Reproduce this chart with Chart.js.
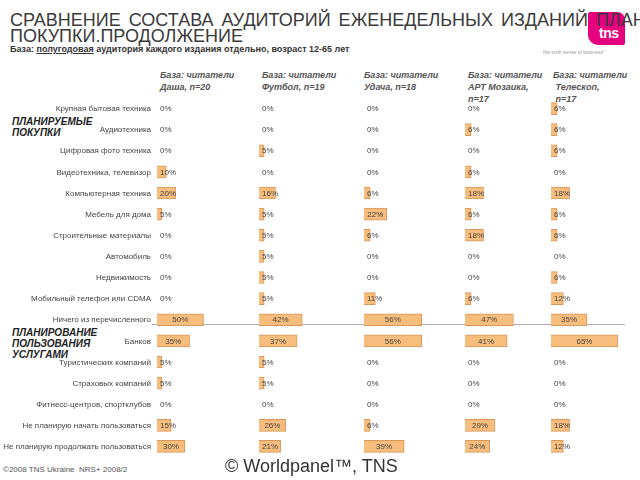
<!DOCTYPE html>
<html>
<head>
<meta charset="utf-8">
<script src="https://cdn.jsdelivr.net/npm/chart.js@4.4.1/dist/chart.umd.min.js"></script>
<style>
  body { margin: 0; background: #fff; }
  #slide { position: relative; width: 640px; height: 480px; overflow: hidden; font-family: "Liberation Sans", Arial, sans-serif; }
  .abs { position: absolute; white-space: nowrap; }
  .title { left: 10px; top: 12px; font-size: 18px; line-height: 16px; color: #3a3a3a; word-spacing: 3px; z-index: 2; }
  .sub { left: 10px; top: 44px; font-size: 9px; font-weight: bold; color: #333; }
  .colhead { top: 69px; font-size: 9px; line-height: 12px; font-weight: bold; font-style: italic; color: #555; }
  .section { left: 12px; font-size: 10px; line-height: 11px; font-weight: bold; font-style: italic; color: #222; }
  canvas { position: absolute; }
</style>
</head>
<body>
<div id="slide">
  <!-- логотип -->
  <div class="abs" style="left:588px;top:12px;width:37px;height:33px;background:#e5007e;border-radius:2px 8px 2px 10px;"></div>
  <div class="abs" style="left:599px;top:25px;font-size:14px;font-weight:bold;color:#fff;letter-spacing:-0.5px;">tns</div>
  <div class="abs" style="left:543px;top:49px;font-size:5px;color:#999;">the sixth sense of business"</div>

  <div class="abs title">СРАВНЕНИЕ СОСТАВА АУДИТОРИЙ ЕЖЕНЕДЕЛЬНЫХ ИЗДАНИЙ ПЛАНЫ<br>ПОКУПКИ.ПРОДОЛЖЕНИЕ</div>
  <div class="abs sub">База: <u>полугодовая</u> аудитория каждого издания отдельно, возраст 12-65 лет</div>

  <div class="abs colhead" style="left:160px;">База: читатели<br>Даша, n=20</div>
  <div class="abs colhead" style="left:262px;">База: читатели<br>Футбол, n=19</div>
  <div class="abs colhead" style="left:364px;">База: читатели<br>Удача, n=18</div>
  <div class="abs colhead" style="left:468px;">База: читатели<br>АРТ Мозаика,<br>n=17</div>
  <div class="abs colhead" style="left:553px;">База: читатели<br>&nbsp;Телескоп,<br>&nbsp;n=17</div>

  <div class="abs section" style="top:116px;">ПЛАНИРУЕМЫЕ<br>ПОКУПКИ</div>
  <div class="abs section" style="top:327px;">ПЛАНИРОВАНИЕ<br>ПОЛЬЗОВАНИЯ<br>УСЛУГАМИ</div>

  <div class="abs" style="left:152px;top:324px;width:473px;height:1px;background:#b0b0b0;"></div>

  <canvas id="c0" width="252" height="359" style="left:0;top:98px;"></canvas>
  <canvas id="c1" width="100" height="359" style="left:259px;top:98px;"></canvas>
  <canvas id="c2" width="100" height="359" style="left:364px;top:98px;"></canvas>
  <canvas id="c3" width="86" height="359" style="left:465px;top:98px;"></canvas>
  <canvas id="c4" width="89" height="359" style="left:551px;top:98px;"></canvas>

  <div class="abs" style="left:3px;top:465px;font-size:8px;color:#555;">©2008 TNS Ukraine&nbsp; NRS+ 2008/2</div>
  <div class="abs" style="left:225px;top:456px;font-size:18px;color:#333;">© Worldpanel™, TNS</div>
</div>

<script>
// Категории (строки)
const categories = [
  "Крупная бытовая техника",
  "Аудиотехника",
  "Цифровая фото техника",
  "Видеотехника, телевизор",
  "Компьютерная техника",
  "Мебель для дома",
  "Строительные материалы",
  "Автомобиль",
  "Недвижимость",
  "Мобильный телефон или CDMA",
  "Ничего из перечисленного",
  "Банков",
  "Туристических компаний",
  "Страховых компаний",
  "Фитнесс-центров, спортклубов",
  "Не планирую начать пользоваться",
  "Не планирую продолжать пользоваться"
];

// Значения по изданиям, %
const dasha      = [0, 0, 0, 10, 20, 5, 0, 0, 0, 0, 50, 35, 5, 5, 0, 15, 30];
const futbol     = [0, 0, 5, 0, 16, 5, 5, 5, 5, 5, 42, 37, 5, 5, 0, 26, 21];
const udacha     = [0, 0, 0, 0, 6, 22, 6, 0, 0, 11, 56, 56, 0, 0, 0, 6, 39];
const artMozaika = [0, 6, 0, 6, 18, 6, 18, 0, 0, 6, 47, 41, 0, 0, 0, 29, 24];
const teleskop   = [6, 6, 6, 0, 18, 6, 6, 0, 6, 12, 35, 65, 0, 0, 0, 18, 12];

const columns = [dasha, futbol, udacha, artMozaika, teleskop];
// пикселей на 1% для каждой колонки
const pxPerPct = [0.93, 1.03, 1.03, 1.03, 1.03];
const LABEL_W = 157; // ширина зоны подписей категорий в первом графике

const FONT = "'Liberation Sans', Arial, sans-serif";

// подписи значений
const valueLabels = {
  id: "valueLabels",
  afterDatasetsDraw(chart) {
    const ctx = chart.ctx;
    const meta = chart.getDatasetMeta(0);
    const data = chart.data.datasets[0].data;
    ctx.save();
    ctx.font = "8px " + FONT;
    ctx.fillStyle = "#444";
    ctx.textBaseline = "middle";
    ctx.textAlign = "center";
    meta.data.forEach((bar, i) => {
      const txt = data[i] + "%";
      const w = ctx.measureText(txt).width;
      const mid = (bar.base + bar.x) / 2;
      const x = Math.max(mid, bar.base + 3 + w / 2);
      ctx.fillText(txt, x, bar.y + 0.5);
    });
    ctx.restore();
  }
};

// подписи категорий слева (только первый график)
const categoryLabels = {
  id: "categoryLabels",
  afterDraw(chart) {
    const ctx = chart.ctx;
    const y = chart.scales.y;
    ctx.save();
    ctx.font = "8px " + FONT;
    ctx.fillStyle = "#444";
    ctx.textBaseline = "middle";
    ctx.textAlign = "right";
    chart.data.labels.forEach((lab, i) => {
      ctx.fillText(lab, chart.chartArea.left - 6, y.getPixelForValue(i) + 0.5);
    });
    ctx.restore();
  }
};

columns.forEach((values, k) => {
  const canvas = document.getElementById("c" + k);
  const first = k === 0;
  const areaW = first ? canvas.width - LABEL_W : canvas.width;
  new Chart(canvas, {
    type: "bar",
    data: {
      labels: categories,
      datasets: [{
        data: values,
        backgroundColor: "#f7bd7d",
        borderColor: "#d9975a",
        borderWidth: 1,
        barThickness: 12
      }]
    },
    options: {
      indexAxis: "y",
      responsive: false,
      animation: false,
      layout: { padding: { left: first ? LABEL_W : 0, right: 0, top: 0, bottom: 0 } },
      plugins: { legend: { display: false }, tooltip: { enabled: false } },
      scales: {
        x: { display: false, min: 0, max: areaW / pxPerPct[k] },
        y: { display: false }
      }
    },
    plugins: first ? [valueLabels, categoryLabels] : [valueLabels]
  });
});
</script>
</body>
</html>
